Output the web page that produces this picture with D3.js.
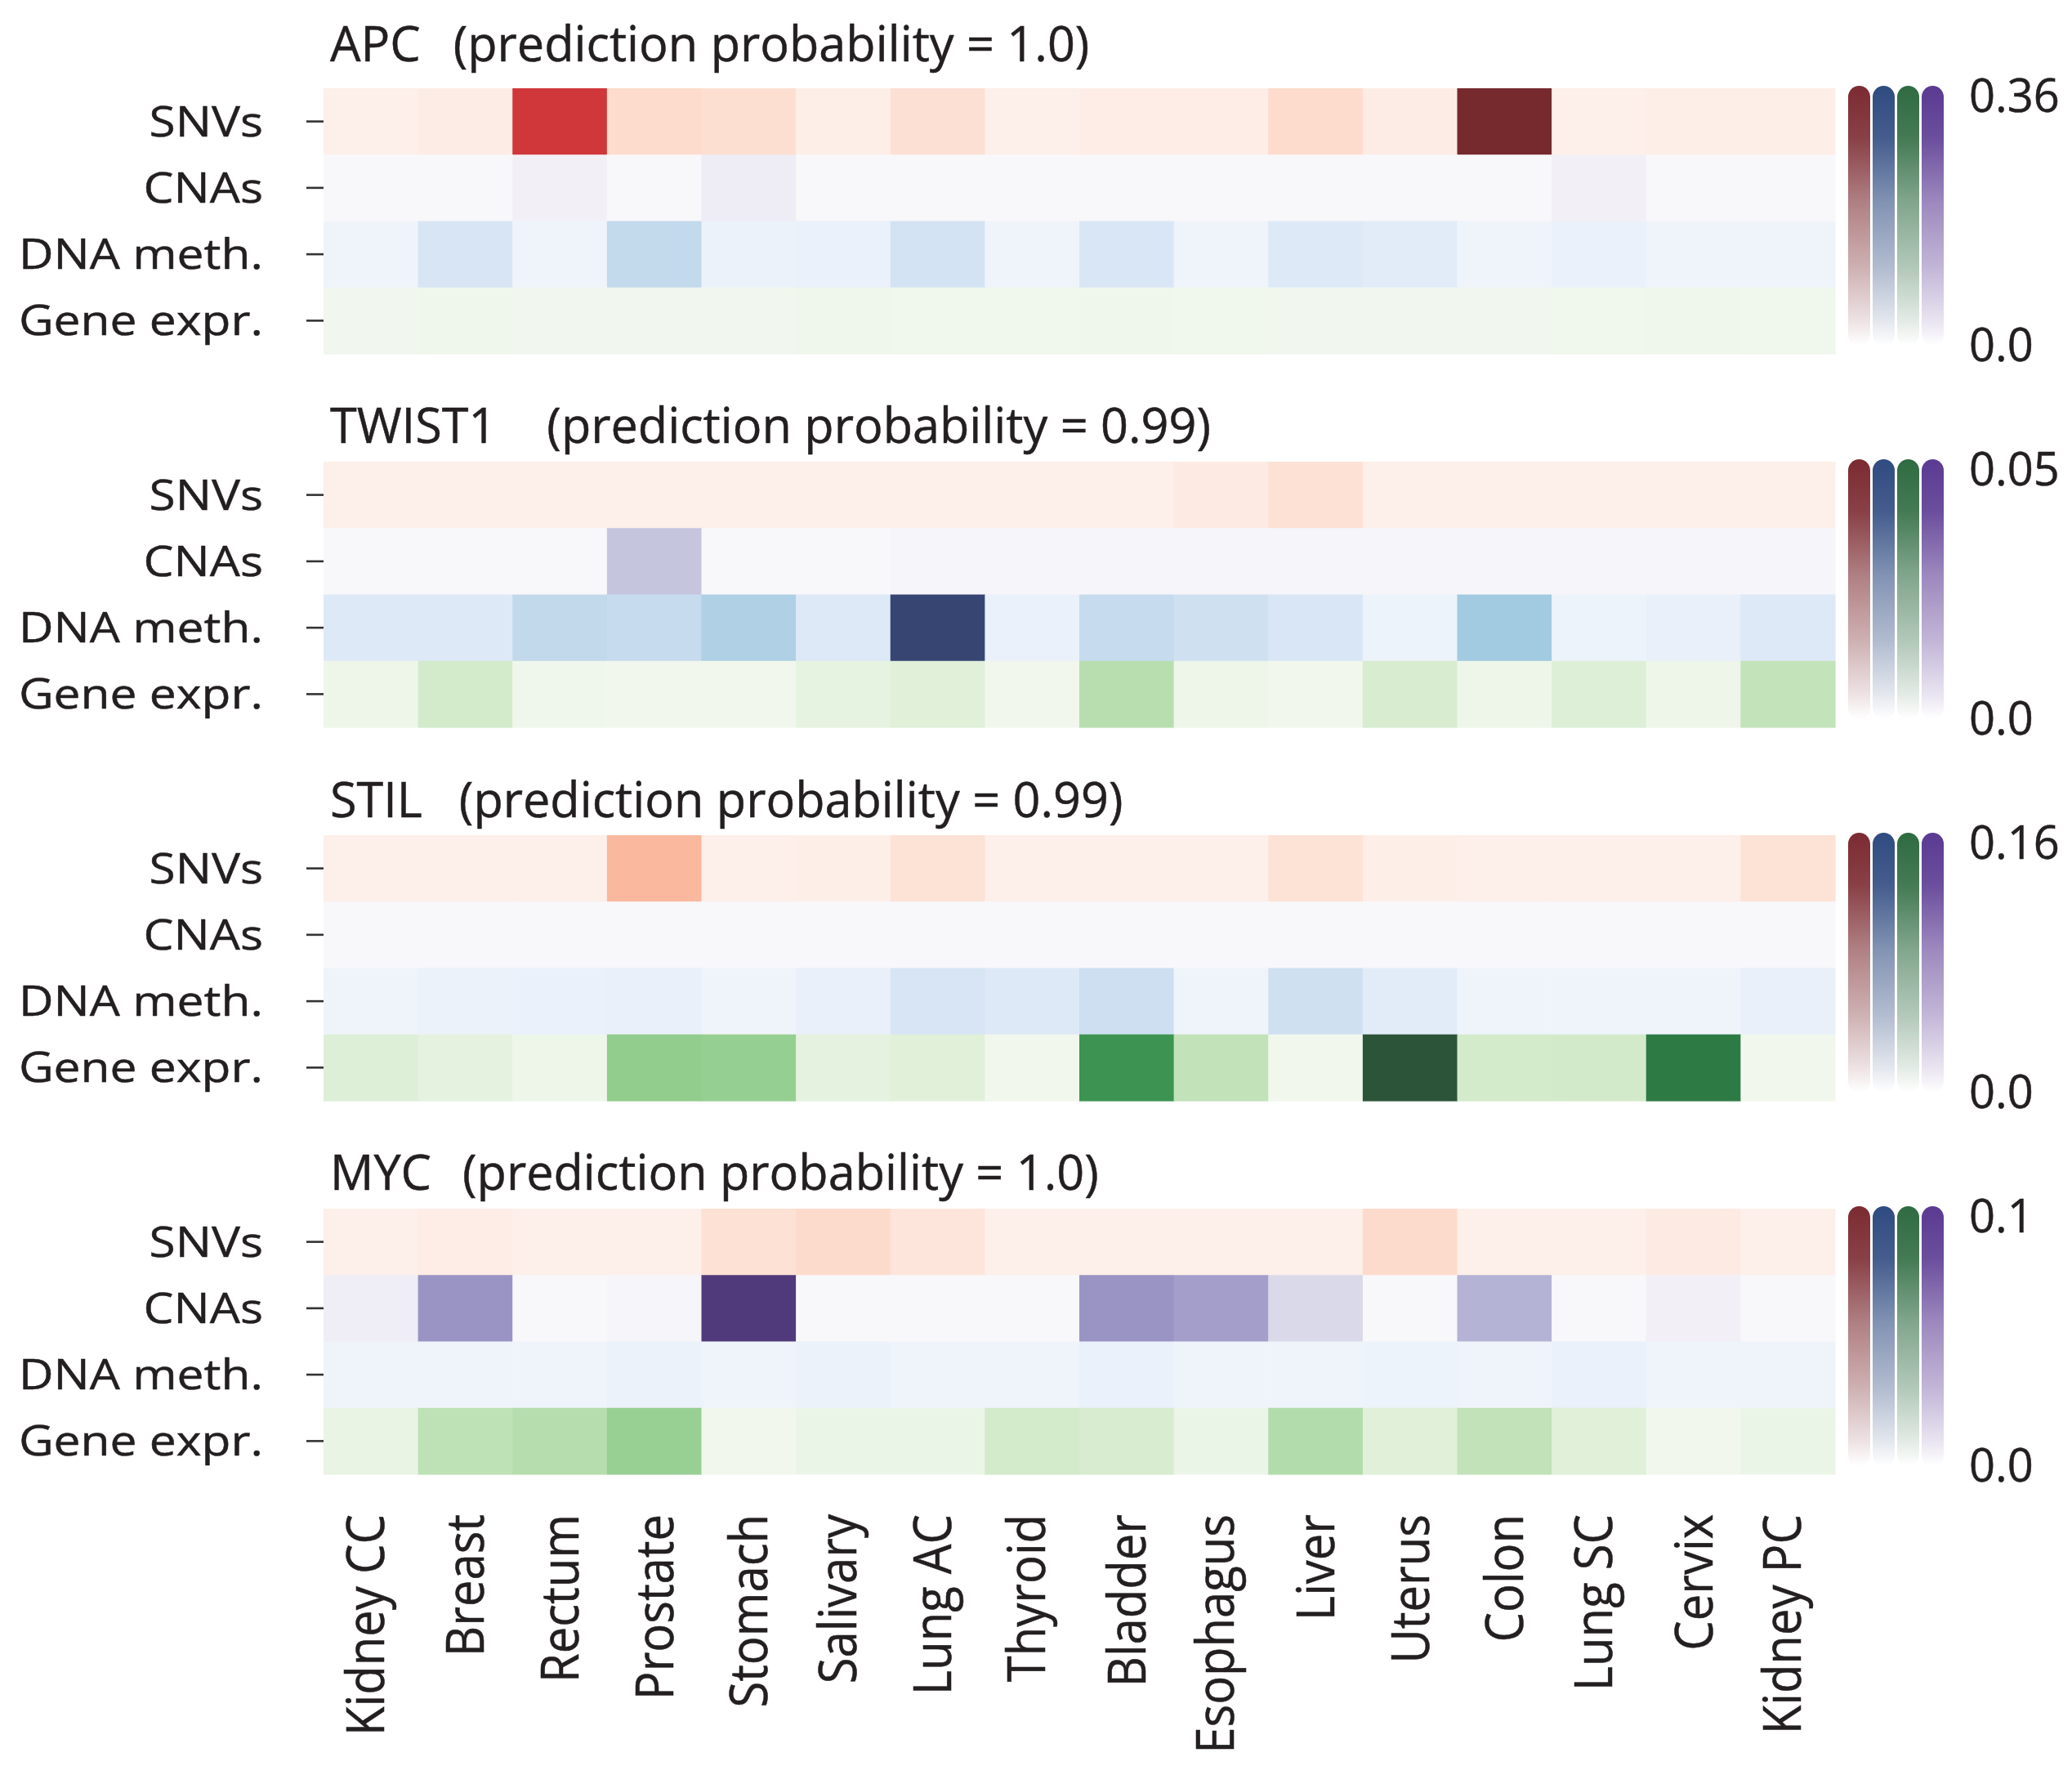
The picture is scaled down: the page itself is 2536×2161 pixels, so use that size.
<!DOCTYPE html>
<html>
<head>
<meta charset="utf-8">
<script src="https://cdn.jsdelivr.net/npm/d3@7"></script>
<style>
  html, body { margin: 0; padding: 0; background: #fff; }
  svg { display: block; }
  text { font-family: "Open Sans", "Noto Sans", sans-serif; fill: #231f20; stroke: #231f20; stroke-width: 0.5px; }
</style>
</head>
<body>
<svg id="chart" width="2536" height="2161"></svg>
<script>
// ---------------- data ----------------
const cancerTypes = ["Kidney CC", "Breast", "Rectum", "Prostate", "Stomach", "Salivary", "Lung AC", "Thyroid",
                     "Bladder", "Esophagus", "Liver", "Uterus", "Colon", "Lung SC", "Cervix", "Kidney PC"];
const modalities = ["SNVs", "CNAs", "DNA meth.", "Gene expr."];
const genes = ["APC", "TWIST1", "STIL", "MYC"];
const predictionProbability = ["1.0", "0.99", "0.99", "1.0"];
const colorMax = [0.36, 0.05, 0.16, 0.1];
const colorMaxLabels = ["0.36", "0.05", "0.16", "0.1"];
const colorMinLabel = "0.0";

// APC
const apcSNVs = [0.011, 0.018, 0.256, 0.053, 0.049, 0.013, 0.047, 0.011, 0.016, 0.016, 0.053, 0.018, 0.36, 0.011, 0.014, 0.014];
const apcCNAs = [0, 0, 0.029, 0, 0.043, 0, 0, 0, 0, 0, 0, 0, 0, 0.029, 0, 0];
const apcMeth = [0.010, 0.060, 0.010, 0.095, 0.017, 0.021, 0.065, 0.010, 0.057, 0.010, 0.049, 0.038, 0.010, 0.021, 0.010, 0.010];
const apcExpr = [0.005, 0.011, 0.005, 0.005, 0.005, 0.011, 0.008, 0.008, 0.011, 0.008, 0.005, 0.005, 0.005, 0.008, 0.011, 0.008];

// TWIST1
const twist1SNVs = [0.0015, 0.0015, 0.0015, 0.0015, 0.0015, 0.0015, 0.0015, 0.0015, 0.0015, 0.003, 0.0065, 0.0015, 0.0015, 0.0015, 0.0015, 0.0015];
const twist1CNAs = [0, 0, 0, 0.017, 0, 0, 0.001, 0.001, 0.001, 0.001, 0.001, 0.001, 0.001, 0.001, 0.001, 0.001];
const twist1Meth = [0.0068, 0.0068, 0.0133, 0.0125, 0.0165, 0.0068, 0.05, 0.0031, 0.0125, 0.0104, 0.0079, 0.002, 0.0188, 0.002, 0.0034, 0.0068];
const twist1Expr = [0.0021, 0.01, 0.0015, 0.001, 0.001, 0.0052, 0.0072, 0.001, 0.015, 0.0021, 0.001, 0.009, 0.0021, 0.0077, 0.0021, 0.0133];

// STIL
const stilSNVs = [0.005, 0.005, 0.005, 0.043, 0.005, 0.006, 0.02, 0.005, 0.005, 0.005, 0.02, 0.006, 0.005, 0.005, 0.005, 0.02];
const stilCNAs = [0, 0, 0, 0, 0, 0, 0, 0, 0, 0, 0, 0, 0, 0, 0, 0];
const stilMeth = [0.0046, 0.0077, 0.0093, 0.0107, 0.0046, 0.0107, 0.0267, 0.0216, 0.035, 0.0046, 0.0336, 0.017, 0.0046, 0.0046, 0.0046, 0.0107];
const stilExpr = [0.0246, 0.019, 0.0067, 0.067, 0.065, 0.019, 0.023, 0.003, 0.11, 0.043, 0.003, 0.16, 0.032, 0.033, 0.128, 0.003];

// MYC
const mycSNVs = [0.003, 0.0045, 0.003, 0.003, 0.013, 0.015, 0.01, 0.003, 0.003, 0.003, 0.003, 0.015, 0.003, 0.003, 0.006, 0.003];
const mycCNAs = [0.011, 0.052, 0, 0.002, 0.096, 0, 0, 0, 0.052, 0.048, 0.025, 0, 0.041, 0, 0.008, 0];
const mycMeth = [0.003, 0.003, 0.003, 0.0048, 0.003, 0.0048, 0.003, 0.003, 0.0058, 0.003, 0.003, 0.004, 0.003, 0.006, 0.003, 0.003];
const mycExpr = [0.008, 0.028, 0.031, 0.04, 0.002, 0.0065, 0.0065, 0.02, 0.018, 0.0065, 0.0315, 0.0144, 0.027, 0.0144, 0.002, 0.0065];

const panelRows = [
  [apcSNVs, apcCNAs, apcMeth, apcExpr],
  [twist1SNVs, twist1CNAs, twist1Meth, twist1Expr],
  [stilSNVs, stilCNAs, stilMeth, stilExpr],
  [mycSNVs, mycCNAs, mycMeth, mycExpr]
];

// ---------------- styling ----------------
// One sequential ramp per data modality (SNVs, CNAs, DNA meth., Gene expr.)
const ramps = {
  "SNVs":       ["#fdf3ef", "#fde2d6", "#fbbea5", "#f6967a", "#ef6b52", "#e2453b", "#c8303a", "#9e2a32", "#762a2e"],
  "CNAs":       ["#f8f7fa", "#eeecf4", "#dad9e9", "#bdbdda", "#9e99c7", "#8079b5", "#6a57a0", "#5a448c", "#4b3675"],
  "DNA meth.":  ["#f4f7fc", "#dfeaf7", "#c7dbee", "#a2cae0", "#74add3", "#4c8ec2", "#3a70a8", "#34568c", "#374573"],
  "Gene expr.": ["#f3f8f0", "#e4f2de", "#c8e5bf", "#a0d49a", "#78bf78", "#4aa35d", "#308447", "#2c6a40", "#2c5439"]
};
// Colour-bar columns, left to right
const barColors = ["#7b2b31", "#2f4b80", "#2f6b41", "#5b3a92"];

const layout = {
  heatLeft: 396, heatRight: 2246,
  top0: 108, step: 457, panelH: 325,
  titleX: 404, titleY: [75, 542, 1000, 1456], titleGap: [40, 62, 45, 38], titleSx: 0.99,
  tickLen: 21, yLabelRight: 322,
  barX: 2262, barW: 27, barStep: 30, barLift: 3, barLen: 318,
  cbLabelX: 2410, cbTopDy: 29, cbBottomDy: 334,
  xLabelTop: 1853, xLabelSize: 58
};

const svg = d3.select("#chart");
const defs = svg.append("defs");

// Gradients for the colour bars: dark at the top, fading to white
barColors.forEach((c, i) => {
  const g = defs.append("linearGradient")
    .attr("id", "cb" + i).attr("x1", 0).attr("y1", 0).attr("x2", 0).attr("y2", 1);
  const mix = d3.interpolateRgb(c, "#ffffff");
  [[0, 0], [0.2, 0.1], [0.45, 0.4], [0.7, 0.63], [0.9, 0.86], [1, 1]].forEach(([o, m]) => {
    g.append("stop").attr("offset", o).attr("stop-color", mix(m));
  });
});

const x = d3.scaleBand().domain(cancerTypes).range([layout.heatLeft, layout.heatRight]);

genes.forEach((gene, p) => {
  const top = layout.top0 + p * layout.step;
  const y = d3.scaleBand().domain(modalities).range([top, top + layout.panelH]);
  const g = svg.append("g").attr("class", "panel");

  // heatmap cells
  modalities.forEach((m, r) => {
    const color = d3.scaleSequential(d3.piecewise(d3.interpolateRgb, ramps[m]))
      .domain([0, colorMax[p]]).clamp(true);
    g.append("g").selectAll("rect")
      .data(panelRows[p][r].map((v, c) => ({ v, c: cancerTypes[c] })))
      .join("rect")
      .attr("x", d => x(d.c))
      .attr("y", y(m))
      .attr("width", x.bandwidth() + 0.6)
      .attr("height", y.bandwidth() + 0.6)
      .attr("fill", d => color(d.v));
  });

  // y axis with row labels
  const axis = g.append("g")
    .attr("transform", `translate(${layout.heatLeft},0)`)
    .call(d3.axisLeft(y).tickSize(layout.tickLen).tickPadding(0));
  axis.select(".domain").remove();
  axis.selectAll(".tick line").attr("stroke", "#333").attr("stroke-width", 2.6);
  axis.selectAll(".tick text")
    .attr("x", null).attr("dy", null)
    .attr("text-anchor", "end")
    .attr("font-family", null)
    .attr("font-size", 52)
    .attr("fill", "#231f20")
    .attr("transform", `translate(${layout.yLabelRight - layout.heatLeft},18) scale(1.13,1)`);

  // title: gene name + prediction probability
  const geneText = g.append("text")
    .attr("transform", `translate(${layout.titleX},${layout.titleY[p]}) scale(${layout.titleSx},1)`)
    .attr("font-size", 60)
    .text(gene);
  const gw = geneText.node().getComputedTextLength() * layout.titleSx;
  g.append("text")
    .attr("transform", `translate(${layout.titleX + gw + layout.titleGap[p]},${layout.titleY[p]}) scale(${layout.titleSx},1)`)
    .attr("font-size", 60)
    .text(`(prediction probability = ${predictionProbability[p]})`);

  // colour bars
  barColors.forEach((c, i) => {
    g.append("rect")
      .attr("x", layout.barX + i * layout.barStep)
      .attr("y", top - layout.barLift)
      .attr("width", layout.barW)
      .attr("height", layout.barLen)
      .attr("rx", layout.barW / 2).attr("ry", layout.barW / 2)
      .attr("fill", `url(#cb${i})`);
  });
  g.append("text")
    .attr("x", layout.cbLabelX).attr("y", top + layout.cbTopDy)
    .attr("font-size", 56)
    .text(colorMaxLabels[p]);
  g.append("text")
    .attr("x", layout.cbLabelX).attr("y", top + layout.cbBottomDy)
    .attr("font-size", 56)
    .text(colorMinLabel);
});

// rotated cancer-type labels under the last panel
svg.append("g").selectAll("text")
  .data(cancerTypes)
  .join("text")
  .attr("text-anchor", "end")
  .attr("font-size", layout.xLabelSize)
  .attr("transform", d => {
    const cx = x(d) + x.bandwidth() / 2 + (/[gjpqy]/.test(d) ? 16 : 23);
    return `translate(${cx},${layout.xLabelTop}) rotate(-90) scale(1,1.1)`;
  })
  .text(d => d);
</script>
</body>
</html>
